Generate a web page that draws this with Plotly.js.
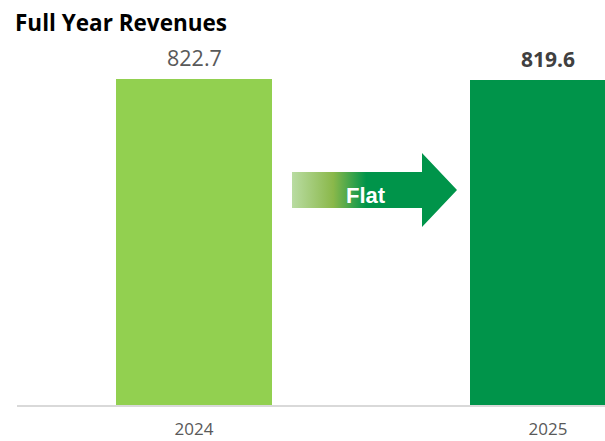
<!DOCTYPE html>
<html>
<head>
<meta charset="utf-8">
<script src="https://cdn.plot.ly/plotly-3.0.1.min.js"></script>
<style>html,body{margin:0;padding:0;background:#fff;}#chart{width:605px;height:441px;}</style>
</head>
<body>
<div id="chart"></div>
<script>
// Data
var categories = ['2024', '2025'];
var revenues = [822.7, 819.6];
var valueLabels = ['822.7', '819.6'];
var barColors = ['#92D050', '#00944A'];
var arrowLabel = 'Flat';
var chartTitle = 'Full Year Revenues';

// Arrow outline (decoration, in overlay pixel-space axis)
var arrowX = [292, 422, 422, 457, 422, 422, 292, 292];
var arrowY = [172, 172, 153, 190, 227, 208, 208, 172];

var bars = {
  type: 'bar',
  x: categories,
  y: revenues,
  width: 0.443,
  marker: {color: barColors},
  hoverinfo: 'skip',
  showlegend: false
};

var arrow = {
  type: 'scatter',
  mode: 'lines',
  x: arrowX,
  y: arrowY,
  xaxis: 'x2',
  yaxis: 'y2',
  fill: 'toself',
  line: {width: 0, color: 'rgba(0,0,0,0)'},
  fillcolor: '#00944A',
  fillgradient: {
    type: 'horizontal',
    colorscale: [[0, '#b9dca2'], [0.25, '#8ab84a'], [0.45, '#00944A'], [1, '#00944A']]
  },
  hoverinfo: 'skip',
  showlegend: false
};

var annotations = [
  {x: 0, y: revenues[0], xref: 'x', yref: 'y', text: valueLabels[0], showarrow: false,
   yanchor: 'bottom', yshift: 5, font: {family: 'Open Sans, sans-serif', size: 21.5, color: '#595959'}},
  {x: 1, y: revenues[1], xref: 'x', yref: 'y', text: '<b>' + valueLabels[1] + '</b>', showarrow: false,
   yanchor: 'bottom', yshift: 5, font: {family: 'Open Sans, sans-serif', size: 21, color: '#404040'}},
  {x: 366, y: 195, xref: 'x2', yref: 'y2', text: '<b>' + arrowLabel + '</b>', showarrow: false,
   font: {family: 'Liberation Sans, Arial, sans-serif', size: 22, color: '#ffffff'}}
];

var layout = {
  width: 605,
  height: 441,
  margin: {l: 17, r: 0, t: 60, b: 36, pad: 0},
  paper_bgcolor: '#ffffff',
  plot_bgcolor: '#ffffff',
  title: {
    text: '<b>' + chartTitle + '</b>',
    xref: 'container', yref: 'container',
    x: 15 / 605, xanchor: 'left',
    y: 1 - 23 / 441, yanchor: 'middle',
    font: {family: 'Open Sans, sans-serif', size: 22.5, color: '#000000'}
  },
  xaxis: {
    type: 'category',
    range: [-0.5, 1.161],
    showline: true,
    linecolor: '#d9d9d9',
    linewidth: 2,
    showgrid: false,
    zeroline: false,
    ticks: '',
    ticklabelstandoff: 8,
    tickfont: {family: 'Open Sans, sans-serif', size: 17, color: '#595959'},
    fixedrange: true
  },
  yaxis: {
    range: [0, 870.6],
    visible: false,
    showgrid: false,
    zeroline: false,
    fixedrange: true
  },
  xaxis2: {overlaying: 'x', range: [17, 605], visible: false, fixedrange: true},
  yaxis2: {overlaying: 'y', range: [405, 60], visible: false, fixedrange: true},
  annotations: annotations,
  bargap: 0
};

Plotly.newPlot('chart', [bars, arrow], layout, {displayModeBar: false, staticPlot: true});
</script>
</body>
</html>
